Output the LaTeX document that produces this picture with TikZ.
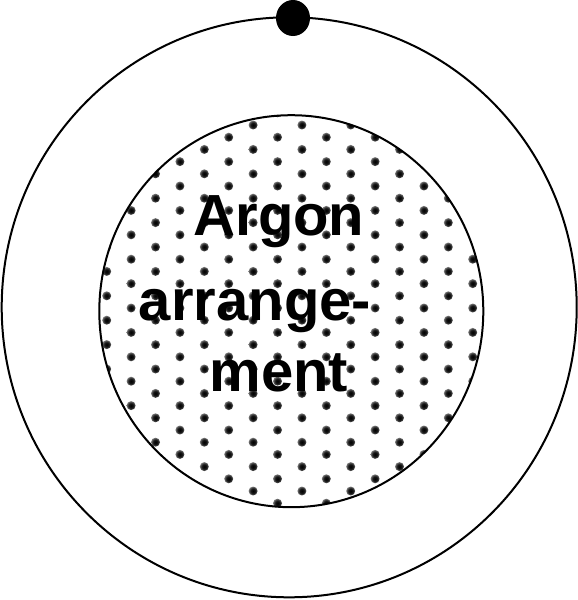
\documentclass[tikz,border=0pt]{standalone}
\usepackage{fontspec}
\setsansfont{Liberation Sans}
\pgfdeclareradialshading{blurdot}{\pgfpoint{0bp}{0bp}}{color(0bp)=(black); color(14bp)=(black!90); color(28bp)=(black!45); color(44bp)=(white); color(50bp)=(white)}
\tikzset{
  ring/.style={draw=black, line width=2pt},
  label/.style={font=\sffamily\bfseries\fontsize{58}{60}\selectfont, inner sep=0pt, anchor=base},
  blur/.style={shading=blurdot}
}
\begin{document}
\begin{tikzpicture}[x=1pt,y=-1pt]
\useasboundingbox (0,0) rectangle (578,600);
\fill[white] (0,0) rectangle (578,600);
\begin{scope}
  \clip (291.3,311.2) ellipse [x radius=192pt, y radius=196pt];
  \foreach \i in {-1,...,16}{
    \foreach \j in {-1,...,32}{
      \pgfmathtruncatemacro{\myparity}{mod(\i+\j+100,2)}
      \ifnum\myparity=0
        \shade[blur] ({106.7+24.4*\i},{125+12.2*\j}) circle (4.5pt);
      \fi
    }
  }
\end{scope}
\draw[ring] (289.2,307.3) ellipse [x radius=287.5pt, y radius=290pt];
\draw[ring] (291.3,311.2) ellipse [x radius=192pt, y radius=196pt];
\fill[black] (293,18) ellipse [x radius=17pt, y radius=18pt];
\node[label] (l1) at (279,235) {Argon};
\node[label] (l2) at (255,320) {arrange-};
\node[label] (l3) at (279,391.7) {ment};
\end{tikzpicture}
\end{document}
